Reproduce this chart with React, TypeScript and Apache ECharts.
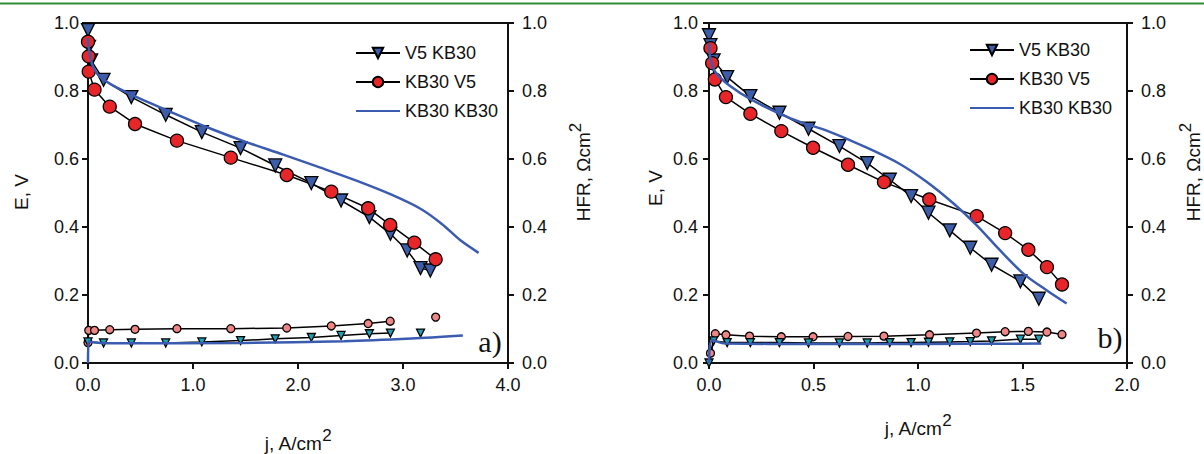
import React, { useEffect, useRef } from "react";
import * as echarts from "echarts";

// ---------- Panel a) ----------
const aV5KB30_j = [0, 0.01, 0.03, 0.148, 0.413, 0.74, 1.084, 1.453, 1.783, 2.127, 2.41, 2.68, 2.88, 3.04, 3.167, 3.26];
const aV5KB30_E = [0.979, 0.93, 0.89, 0.833, 0.782, 0.73, 0.679, 0.632, 0.581, 0.529, 0.478, 0.429, 0.38, 0.331, 0.279, 0.272];

const aKB30V5_j = [0, 0.007, 0.007, 0.062, 0.207, 0.448, 0.847, 1.36, 1.893, 2.317, 2.668, 2.878, 3.108, 3.311];
const aKB30V5_E = [0.945, 0.902, 0.857, 0.804, 0.754, 0.703, 0.654, 0.604, 0.553, 0.504, 0.455, 0.406, 0.354, 0.305];

const aKB30KB30_j = [0, 0.01, 0.05, 0.12, 0.24, 0.48, 0.83, 1.17, 1.515, 1.86, 2.2, 2.55, 2.89, 3.17, 3.37, 3.55, 3.72];
const aKB30KB30_E = [0.956, 0.92, 0.87, 0.84, 0.816, 0.78, 0.733, 0.689, 0.649, 0.613, 0.576, 0.537, 0.495, 0.453, 0.409, 0.36, 0.324];

const aHFR_KB30V5_j = [0, 0.007, 0.062, 0.207, 0.448, 0.847, 1.36, 1.893, 2.317, 2.668, 2.878, 3.108, 3.311];
const aHFR_KB30V5 = [0.06, 0.096, 0.096, 0.098, 0.099, 0.101, 0.101, 0.103, 0.109, 0.116, 0.123, null, 0.135];

const aHFR_V5KB30_j = [0, 0.148, 0.413, 0.74, 1.084, 1.453, 1.783, 2.127, 2.41, 2.68, 2.88, 3.04, 3.167];
const aHFR_V5KB30 = [0.062, 0.059, 0.059, 0.059, 0.062, 0.066, 0.071, 0.075, 0.081, 0.086, 0.088, null, 0.088];

const aHFR_KB30KB30_j = [0, 0.006, 0.03, 0.19, 1.48, 2.44, 3.08, 3.57];
const aHFR_KB30KB30 = [0, 0.064, 0.062, 0.058, 0.059, 0.064, 0.072, 0.081];

// ---------- Panel b) ----------
const bV5KB30_j = [0, 0.007, 0.022, 0.087, 0.198, 0.337, 0.476, 0.624, 0.757, 0.865, 0.967, 1.05, 1.152, 1.25, 1.352, 1.49, 1.578];
const bV5KB30_E = [0.964, 0.935, 0.89, 0.841, 0.785, 0.736, 0.689, 0.638, 0.588, 0.539, 0.491, 0.442, 0.39, 0.339, 0.289, 0.24, 0.189];

const bKB30V5_j = [0.007, 0.015, 0.028, 0.081, 0.198, 0.346, 0.498, 0.665, 0.837, 1.054, 1.281, 1.417, 1.528, 1.617, 1.689];
const bKB30V5_E = [0.926, 0.882, 0.834, 0.782, 0.733, 0.682, 0.633, 0.583, 0.532, 0.481, 0.432, 0.382, 0.333, 0.282, 0.231];

const bKB30KB30_j = [0, 0.007, 0.03, 0.096, 0.207, 0.393, 0.578, 0.763, 0.911, 1.041, 1.17, 1.281, 1.393, 1.504, 1.615, 1.711];
const bKB30KB30_E = [0.94, 0.895, 0.856, 0.817, 0.773, 0.719, 0.68, 0.631, 0.586, 0.533, 0.469, 0.405, 0.331, 0.263, 0.214, 0.175];

const bHFR_KB30V5_j = [0.007, 0.03, 0.081, 0.194, 0.346, 0.498, 0.665, 0.837, 1.055, 1.28, 1.417, 1.528, 1.617, 1.689];
const bHFR_KB30V5 = [0.029, 0.086, 0.083, 0.079, 0.077, 0.077, 0.078, 0.079, 0.083, 0.088, 0.092, 0.093, 0.091, 0.084];

const bHFR_V5KB30_j = [0, 0.022, 0.087, 0.198, 0.337, 0.476, 0.624, 0.757, 0.865, 0.967, 1.05, 1.152, 1.25, 1.352, 1.49, 1.578];
const bHFR_V5KB30 = [0, 0.065, 0.06, 0.06, 0.06, 0.059, 0.059, 0.059, 0.06, 0.06, 0.061, 0.062, 0.063, 0.065, 0.07, 0.07];

const bHFR_KB30KB30_j = [0, 0.015, 0.078, 0.5, 1.0, 1.59];
const bHFR_KB30KB30 = [0, 0.067, 0.057, 0.056, 0.056, 0.057];

const legendNames = ["V5 KB30", "KB30 V5", "KB30 KB30"];
const yTicks = [0, 0.2, 0.4, 0.6, 0.8, 1.0];

const FONT = "'Liberation Sans', Arial, sans-serif";
const SERIF = "'Liberation Serif', 'Times New Roman', serif";
const BLACK = "#111";
const BLUE = "#3a5bb0";

const zip = (xs: number[], ys: (number | null)[]) => xs.map((x, i) => [x, ys[i]]);

function triSeries(name: string, xi: number, yi: number, xs: number[], ys: (number | null)[], size: number, fill: string) {
  return {
    name, type: "line", xAxisIndex: xi, yAxisIndex: yi, data: zip(xs, ys),
    symbol: "triangle", symbolRotate: 180, symbolSize: size,
    itemStyle: { color: fill, borderColor: "#000", borderWidth: 1.3 },
    lineStyle: { color: "#000", width: 1.5 }, z: 2, connectNulls: false,
  };
}
function circSeries(name: string, xi: number, yi: number, xs: number[], ys: (number | null)[], size: number, fill: string) {
  return {
    name, type: "line", xAxisIndex: xi, yAxisIndex: yi, data: zip(xs, ys),
    symbol: "circle", symbolSize: size,
    itemStyle: { color: fill, borderColor: "#000", borderWidth: 1.3 },
    lineStyle: { color: "#000", width: 1.5 }, z: 2, connectNulls: false,
  };
}
function blueSeries(name: string, xi: number, yi: number, xs: number[], ys: number[]) {
  return {
    name, type: "line", xAxisIndex: xi, yAxisIndex: yi, data: zip(xs, ys),
    symbol: "none", smooth: 0.3, lineStyle: { color: BLUE, width: 2.5 },
    itemStyle: { color: BLUE }, z: 4,
  };
}

function xAxis(grid: number, max: number, interval: number) {
  return {
    type: "value", gridIndex: grid, min: 0, max, interval,
    axisLine: { show: false },
    axisTick: { show: true, length: 6, lineStyle: { color: BLACK, width: 2 } },
    axisLabel: { fontSize: 18, fontFamily: FONT, color: BLACK, margin: 13, formatter: (v: number) => v.toFixed(1) },
    splitLine: { show: false },
  };
}
function yAxis(grid: number, position: string, margin: number) {
  return {
    type: "value", gridIndex: grid, position, min: yTicks[0], max: yTicks[yTicks.length - 1], interval: 0.2,
    axisLine: { show: false },
    axisTick: { show: true, length: 6, lineStyle: { color: BLACK, width: 2 } },
    axisLabel: { fontSize: 18, fontFamily: FONT, color: BLACK, margin, formatter: (v: number) => v.toFixed(1) },
    splitLine: { show: false },
  };
}

const richStyles = {
  m: { fontSize: 19, fontFamily: FONT, lineHeight: 26, verticalAlign: "bottom", fill: BLACK },
  s: { fontSize: 17, fontFamily: FONT, lineHeight: 17, verticalAlign: "top", fill: BLACK },
};

function rotText(x: number, y: number, main: string, sup?: string) {
  return {
    type: "text", x, y, rotation: Math.PI / 2,
    style: {
      text: sup ? `{m|${main}}{s|${sup}}` : `{m|${main}}`,
      align: "center", verticalAlign: "middle", fill: BLACK,
      rich: richStyles,
    },
  };
}
function horText(x: number, y: number, main: string, sup: string) {
  return {
    type: "text", x, y,
    style: {
      text: `{m|${main}}{s|${sup}}`,
      align: "center", verticalAlign: "middle", fill: BLACK,
      rich: richStyles,
    },
  };
}

export default function App() {
  const ref = useRef<HTMLDivElement>(null);
  useEffect(() => {
    if (!ref.current) return;
    const chart = echarts.init(ref.current, undefined, { renderer: "svg" });
    const legendBase = {
      orient: "vertical",
      data: [
        { name: legendNames[0] },
        { name: legendNames[1] },
        { name: legendNames[2], itemStyle: { opacity: 0 } },
      ],
      selectedMode: false,
      itemWidth: 44, itemHeight: 13, itemGap: 11,
      textStyle: { fontSize: 18, fontFamily: FONT, color: BLACK },
    };
    chart.setOption({
      animation: false,
      backgroundColor: "#fff",
      grid: [
        { left: 88, top: 23, width: 420, height: 340, show: true, borderColor: BLACK, borderWidth: 2, backgroundColor: "transparent" },
        { left: 709, top: 23, width: 418, height: 340, show: true, borderColor: BLACK, borderWidth: 2, backgroundColor: "transparent" },
      ],
      xAxis: [xAxis(0, 4, 1), xAxis(1, 2, 0.5)],
      yAxis: [yAxis(0, "left", 9), yAxis(0, "right", 14), yAxis(1, "left", 11), yAxis(1, "right", 14)],
      legend: [
        { ...legendBase, left: 350, top: 39 },
        { ...legendBase, left: 964, top: 36 },
      ],
      series: [
        triSeries("V5 KB30", 0, 0, aV5KB30_j, aV5KB30_E, 13, "#3c5ea8"),
        circSeries("KB30 V5", 0, 0, aKB30V5_j, aKB30V5_E, 13, "#e8262a"),
        blueSeries("KB30 KB30", 0, 0, aKB30KB30_j, aKB30KB30_E),
        circSeries("HFR a KB30 V5", 0, 1, aHFR_KB30V5_j, aHFR_KB30V5, 8, "#f08585"),
        triSeries("HFR a V5 KB30", 0, 1, aHFR_V5KB30_j, aHFR_V5KB30, 8, "#1aa3b8"),
        blueSeries("HFR a KB30 KB30", 0, 1, aHFR_KB30KB30_j, aHFR_KB30KB30),

        triSeries("V5 KB30", 1, 2, bV5KB30_j, bV5KB30_E, 13, "#3c5ea8"),
        circSeries("KB30 V5", 1, 2, bKB30V5_j, bKB30V5_E, 13, "#e8262a"),
        blueSeries("KB30 KB30", 1, 2, bKB30KB30_j, bKB30KB30_E),
        circSeries("HFR b KB30 V5", 1, 3, bHFR_KB30V5_j, bHFR_KB30V5, 8, "#f08585"),
        triSeries("HFR b V5 KB30", 1, 3, bHFR_V5KB30_j, bHFR_V5KB30, 8, "#1aa3b8"),
        blueSeries("HFR b KB30 KB30", 1, 3, bHFR_KB30KB30_j, bHFR_KB30KB30),
      ],
      graphic: [
        { type: "line", shape: { x1: 0, y1: 3.5, x2: 1204, y2: 3.5 }, style: { stroke: "#2e8b3a", lineWidth: 2 } },
        rotText(18, 192, "E, V"),
        rotText(652, 188, "E, V"),
        rotText(580, 172, "HFR, Ωcm", "2"),
        rotText(1190, 172, "HFR, Ωcm", "2"),
        horText(298, 440, "j, A/cm", "2"),
        horText(918, 425, "j, A/cm", "2"),
        { type: "text", x: 490, y: 341, style: { text: "a)", font: `30px ${SERIF}`, fill: BLACK, align: "center", verticalAlign: "middle" } },
        { type: "text", x: 1110, y: 337, style: { text: "b)", font: `30px ${SERIF}`, fill: BLACK, align: "center", verticalAlign: "middle" } },
      ],
    });
    return () => chart.dispose();
  }, []);
  return <div ref={ref} style={{ position: "fixed", left: 0, top: 0, width: 1204, height: 454 }} />;
}
